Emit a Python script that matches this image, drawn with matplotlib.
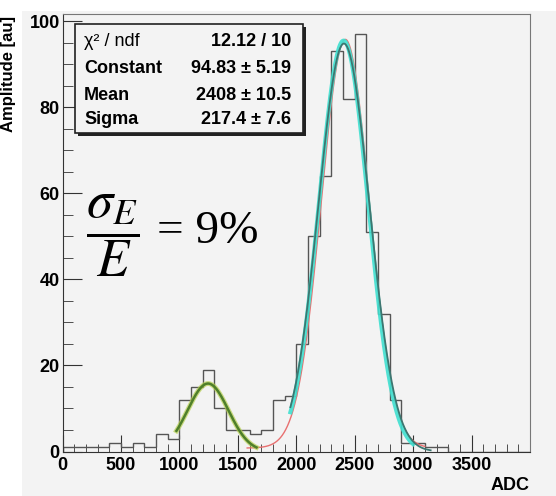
#plot of the ADC spectrum with gaussian fits (ROOT style)

import matplotlib
matplotlib.use("Agg")
import matplotlib.pyplot as plt
import numpy as np

# histogram, 100 ADC bins from 0 to 4000
bin_edges = np.arange(0, 4001, 100)
counts = [1, 1, 1, 1, 2, 1, 2, 1, 4, 3,
          12, 15, 19, 10, 5, 5, 4, 5, 12, 13,
          25, 50, 64, 93, 82, 97, 51, 32, 12, 2,
          2, 1, 1, 0, 0, 0, 0, 0, 0, 0]

# fit parameters (constant, mean, sigma) and drawn range
main_fit = [94.83, 2408, 217.4]
main_range = [1950, 3150]
cyan_fit = [95.5, 2405, 210]
cyan_range = [1950, 3000]
red_fit = [95, 2420, 205]
red_offset = 0.8
red_range = [1580, 3100]
low_fit = [15.8, 1245, 175]
low_range = [975, 1660]

stat_labels = ["\u03c7\u00b2 / ndf", "Constant", "Mean", "Sigma"]
stat_values = ["12.12 / 10", "94.83 \u00b1 5.19", "2408 \u00b1 10.5", "217.4 \u00b1 7.6"]

x_ticks = [0, 500, 1000, 1500, 2000, 2500, 3000, 3500]
y_ticks = [0, 20, 40, 60, 80, 100]


def gaus(x, p):
    return p[0] * np.exp(-0.5 * ((x - p[1]) / p[2]) ** 2)


plt.rcParams['font.family'] = ['Liberation Sans', 'DejaVu Sans']
plt.rcParams['mathtext.fontset'] = 'stix'

bg = "#f3f3f3"
fs = 13
fig = plt.figure(figsize=(5.56, 4.96), dpi=100)
fig.patch.set_facecolor(bg)
ax = fig.add_axes([62.5 / 556, 44.5 / 496, (530 - 62.5) / 556, (451.5 - 14) / 496])
ax.set_facecolor(bg)

# white strips of the slide around the screenshot
fig.patches.append(plt.Rectangle((0, 0), 22 / 556, 1, transform=fig.transFigure,
                                 facecolor="white", edgecolor="none", zorder=-1))
fig.patches.append(plt.Rectangle((0, 1 - 11 / 496), 1, 11 / 496, transform=fig.transFigure,
                                 facecolor="white", edgecolor="none", zorder=-1))

ax.stairs(counts, bin_edges, color="#555555", linewidth=1.0, zorder=2)

xr = np.linspace(red_range[0], red_range[1], 300)
ax.plot(xr, gaus(xr, red_fit) + red_offset, color="#e87070", linewidth=1.0, zorder=3)

xc = np.linspace(cyan_range[0], cyan_range[1], 300)
ax.plot(xc, gaus(xc, cyan_fit), color="#3fe0d0", linewidth=3.0, alpha=0.9, zorder=4)

xm = np.linspace(main_range[0], main_range[1], 300)
ax.plot(xm, gaus(xm, main_fit), color="#3d7670", linewidth=1.3, zorder=5)

xl = np.linspace(low_range[0], low_range[1], 300)
ax.plot(xl, gaus(xl, low_fit), color="#b8d050", linewidth=3.5, alpha=0.7, zorder=4)
ax.plot(xl, gaus(xl, low_fit), color="#4f7f2a", linewidth=1.8, zorder=5)

ax.set_xlim(0, 4000)
ax.set_ylim(0, 101.7)

ax.set_xticks(x_ticks)
ax.set_xticklabels([str(t) for t in x_ticks], fontweight="bold")
ax.set_xticks(np.arange(0, 4001, 100), minor=True)
ax.set_yticks(y_ticks)
ax.set_yticklabels([str(t) for t in y_ticks], fontweight="bold")
ax.set_yticks(np.arange(0, 101, 5), minor=True)
ax.tick_params(axis="both", which="both", direction="in", top=False, right=False,
               labelsize=fs, color="#333333")
ax.tick_params(axis="x", which="major", length=12, pad=4)
ax.tick_params(axis="x", which="minor", length=6)
ax.tick_params(axis="y", which="major", length=14, pad=2)
ax.tick_params(axis="y", which="minor", length=7)
for side in ["left", "bottom"]:
    ax.spines[side].set_color("#333333")
for side in ["top", "right"]:
    ax.spines[side].set_color("#777777")

ax.set_xlabel("ADC", fontweight="bold", fontsize=fs, loc="right", labelpad=2)
fig.text(9 / 556, 1 - 16 / 496, "Amplitude [au]", rotation=90, ha="center", va="top",
         fontweight="bold", fontsize=fs - 1)

# stat box
box = plt.Rectangle((75 / 556, 1 - 133 / 496), (303 - 75) / 556, (133 - 24) / 496,
                    transform=fig.transFigure, facecolor=bg, edgecolor="#222222",
                    linewidth=1.2, zorder=6)
shadow = plt.Rectangle((77.5 / 556, 1 - 135.5 / 496), (303 - 75) / 556, (133 - 24) / 496,
                       transform=fig.transFigure, facecolor="#222222", edgecolor="none",
                       zorder=5.9)
fig.patches.append(shadow)
fig.patches.append(box)
rows_y = [41.7, 68.3, 95, 120]
for i in range(4):
    fig.text(84 / 556, 1 - rows_y[i] / 496, stat_labels[i], ha="left", va="center",
             fontsize=fs, fontweight="normal" if i == 0 else "bold", zorder=7)
    fig.text(291 / 556, 1 - rows_y[i] / 496, stat_values[i], ha="right", va="center",
             fontsize=fs, fontweight="bold", zorder=7)

# energy resolution
fig.text(86 / 556, 1 - 236 / 496, r"$\dfrac{\sigma_E}{E}$", ha="left", va="center",
         fontsize=38)
fig.text(157 / 556, 1 - 232 / 496, "= 9%", ha="left", va="center",
         fontsize=34, family=["Liberation Serif", "DejaVu Serif"])

fig.savefig("out.png", dpi=100, facecolor=fig.get_facecolor())
